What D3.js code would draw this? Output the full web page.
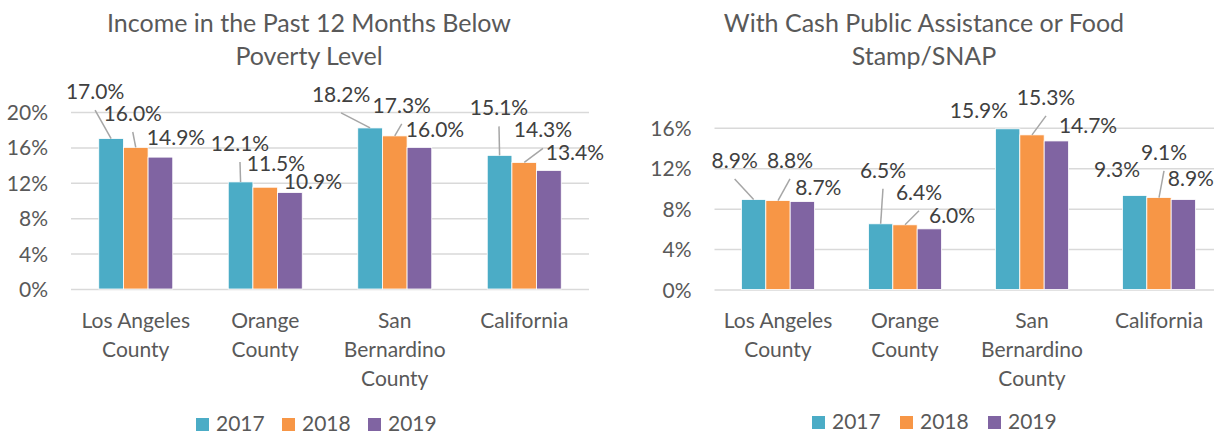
<!DOCTYPE html>
<html lang="en">
<head>
  <meta charset="UTF-8">
  <title>Poverty and public assistance, 2017-2019</title>
  <style>
    body { margin: 0; background: #fff; }
    svg { display: block; font-family: Lato, "Open Sans", sans-serif; }
  </style>
</head>
<body>
  <svg id="svg" width="1214" height="436"></svg>
  <script src="https://d3js.org/d3.v7.min.js"></script>
  <script>
    const categories = ['Los Angeles County', 'Orange County', 'San Bernardino County', 'California']
    const years = ['2017', '2018', '2019']
    const colors = ['#4BACC6', '#F79646', '#8064A2']

    // % of people, income below poverty level
    const poverty2017 = [17.0, 12.1, 18.2, 15.1]
    const poverty2018 = [16.0, 11.5, 17.3, 14.3]
    const poverty2019 = [14.9, 10.9, 16.0, 13.4]
    const povertyTicks = [0, 4, 8, 12, 16, 20]

    // % of households with cash assistance or SNAP
    const snap2017 = [8.9, 6.5, 15.9, 9.3]
    const snap2018 = [8.8, 6.4, 15.3, 9.1]
    const snap2019 = [8.7, 6.0, 14.7, 8.9]
    const snapTicks = [0, 4, 8, 12, 16]

    // labels were dragged around in excel: [dx, dy from bar top, leader line?]
    const povertyLabelPos = [
      [[-16, -39.5, true], [-3, -26.4, true], [15.6, -12, false]],
      [[-0.6, -31, true], [10.7, -16, false], [23, -3.5, false]],
      [[-29, -26, true], [7, -23, true], [15.6, -10.4, false]],
      [[-0.6, -40, true], [18.7, -25, true], [26, -10, false]]
    ]
    const snapLabelPos = [
      [[-19, -31.6, true], [12, -32.6, true], [16, -6.6, false]],
      [[2.3, -46, true], [14, -25, true], [22.7, -6, false]],
      [[-28.7, -11, false], [14, -30, true], [31.7, -8, false]],
      [[-17.7, -18.6, false], [5, -37.6, true], [7.5, -13.6, false]]
    ]

    const svg = d3.select('#svg')
    svg.append('rect').attr('width', 1214).attr('height', 436).attr('fill', '#fff')

    function wrap(text, width) {
      text.each(function () {
        const t = d3.select(this)
        const words = t.text().split(/\s+/)
        const x = t.attr('x')
        t.text(null)
        let line = []
        let tspan = t.append('tspan').attr('x', x).attr('dy', 0)
        words.forEach(w => {
          line.push(w)
          tspan.text(line.join(' '))
          if (tspan.node().getComputedTextLength() > width && line.length > 1) {
            line.pop()
            tspan.text(line.join(' '))
            line = [w]
            tspan = t.append('tspan').attr('x', x).attr('dy', 29).text(w)
          }
        })
      })
    }

    function drawChart(cfg) {
      const series = cfg.series
      const g = svg.append('g')

      const x0 = d3.scaleBand()
        .domain(categories)
        .range(cfg.xRange)
        .paddingInner(cfg.pad)
        .paddingOuter(cfg.pad / 2)
      const x1 = d3.scaleBand().domain(years).range([0, x0.bandwidth()])
      const y = d3.scaleLinear().domain(cfg.yDomain).range(cfg.yRange)

      // title
      g.append('text')
        .attr('text-anchor', 'middle')
        .attr('fill', '#595959')
        .style('font-size', '25px')
        .selectAll('tspan')
        .data(cfg.title)
        .enter()
        .append('tspan')
        .attr('x', cfg.titleX)
        .attr('y', (d, i) => 32 + i * 32.5)
        .text(d => d)

      // gridlines + tick labels
      const axis = g.append('g')
        .attr('transform', `translate(${cfg.xRange[0]},0)`)
        .call(d3.axisLeft(y)
          .tickValues(cfg.ticks)
          .tickSize(-(cfg.xRange[1] - cfg.xRange[0]))
          .tickPadding(23)
          .tickFormat(d => d + '%'))
      axis.select('.domain').remove()
      axis.selectAll('line').attr('stroke', '#D9D9D9').attr('stroke-width', 1.5)
      axis.selectAll('text')
        .attr('fill', '#595959')
        .style('font-size', '21px')
        .style('font-family', 'Lato, "Open Sans", sans-serif')
        .attr('dy', '0.36em')

      // bars
      const groups = g.append('g')
        .selectAll('g')
        .data(categories)
        .enter()
        .append('g')
        .attr('transform', d => `translate(${x0(d)},0)`)

      groups.selectAll('rect')
        .data((d, ci) => years.map((yr, si) => ({ yr, si, ci, v: series[si][ci] })))
        .enter()
        .append('rect')
        .attr('x', d => x1(d.yr))
        .attr('y', d => y(d.v))
        .attr('width', x1.bandwidth())
        .attr('height', d => y(0) - y(d.v))
        .attr('fill', d => colors[d.si])
        .attr('stroke', '#fff')
        .attr('stroke-width', 0.8)

      // leader lines and value labels
      const labels = []
      categories.forEach((c, ci) => {
        years.forEach((yr, si) => {
          const v = series[si][ci]
          const p = cfg.labelPos[ci][si]
          const bx = x0(c) + x1(yr) + x1.bandwidth() / 2
          const by = y(v)
          labels.push({ v, bx, by, lx: bx + p[0], ly: by + p[1], leader: p[2] })
        })
      })

      g.append('g')
        .selectAll('line')
        .data(labels.filter(d => d.leader))
        .enter()
        .append('line')
        .attr('x1', d => d.lx)
        .attr('y1', d => d.ly + 11)
        .attr('x2', d => d.bx)
        .attr('y2', d => d.by)
        .attr('stroke', '#A6A6A6')
        .attr('stroke-width', 1.5)

      g.append('g')
        .selectAll('text')
        .data(labels)
        .enter()
        .append('text')
        .attr('x', d => d.lx)
        .attr('y', d => d.ly)
        .attr('text-anchor', 'middle')
        .attr('fill', '#404040')
        .style('font-size', '21px')
        .text(d => d.v.toFixed(1) + '%')

      // category labels under the bars
      g.append('g')
        .selectAll('text')
        .data(categories)
        .enter()
        .append('text')
        .attr('x', d => x0(d) + x0.bandwidth() / 2)
        .attr('y', 328)
        .attr('text-anchor', 'middle')
        .attr('fill', '#595959')
        .style('font-size', '21px')
        .text(d => d)
        .call(wrap, 125)

      // legend
      const leg = g.append('g')
        .selectAll('g')
        .data(years)
        .enter()
        .append('g')
        .attr('transform', (d, i) => `translate(${cfg.legendX + i * cfg.legendStep},${cfg.legendY})`)
      leg.append('rect')
        .attr('y', -13)
        .attr('width', 13)
        .attr('height', 13)
        .attr('fill', (d, i) => colors[i])
      leg.append('text')
        .attr('x', 20)
        .attr('fill', '#595959')
        .style('font-size', '21px')
        .text(d => d)
    }

    drawChart({
      series: [poverty2017, poverty2018, poverty2019],
      ticks: povertyTicks,
      labelPos: povertyLabelPos,
      title: ['Income in the Past 12 Months Below', 'Poverty Level'],
      titleX: 309,
      xRange: [71, 589],
      pad: 0.4286,
      yDomain: [0, 20],
      yRange: [289, 112],
      legendX: 196,
      legendY: 431,
      legendStep: 86
    })

    drawChart({
      series: [snap2017, snap2018, snap2019],
      ticks: snapTicks,
      labelPos: snapLabelPos,
      title: ['With Cash Public Assistance or Food', 'Stamp/SNAP'],
      titleX: 924,
      xRange: [714.5, 1222.5],
      pad: 0.425,
      yDomain: [0, 16],
      yRange: [289.5, 127.8],
      legendX: 812,
      legendY: 429,
      legendStep: 88
    })
  </script>
</body>
</html>
